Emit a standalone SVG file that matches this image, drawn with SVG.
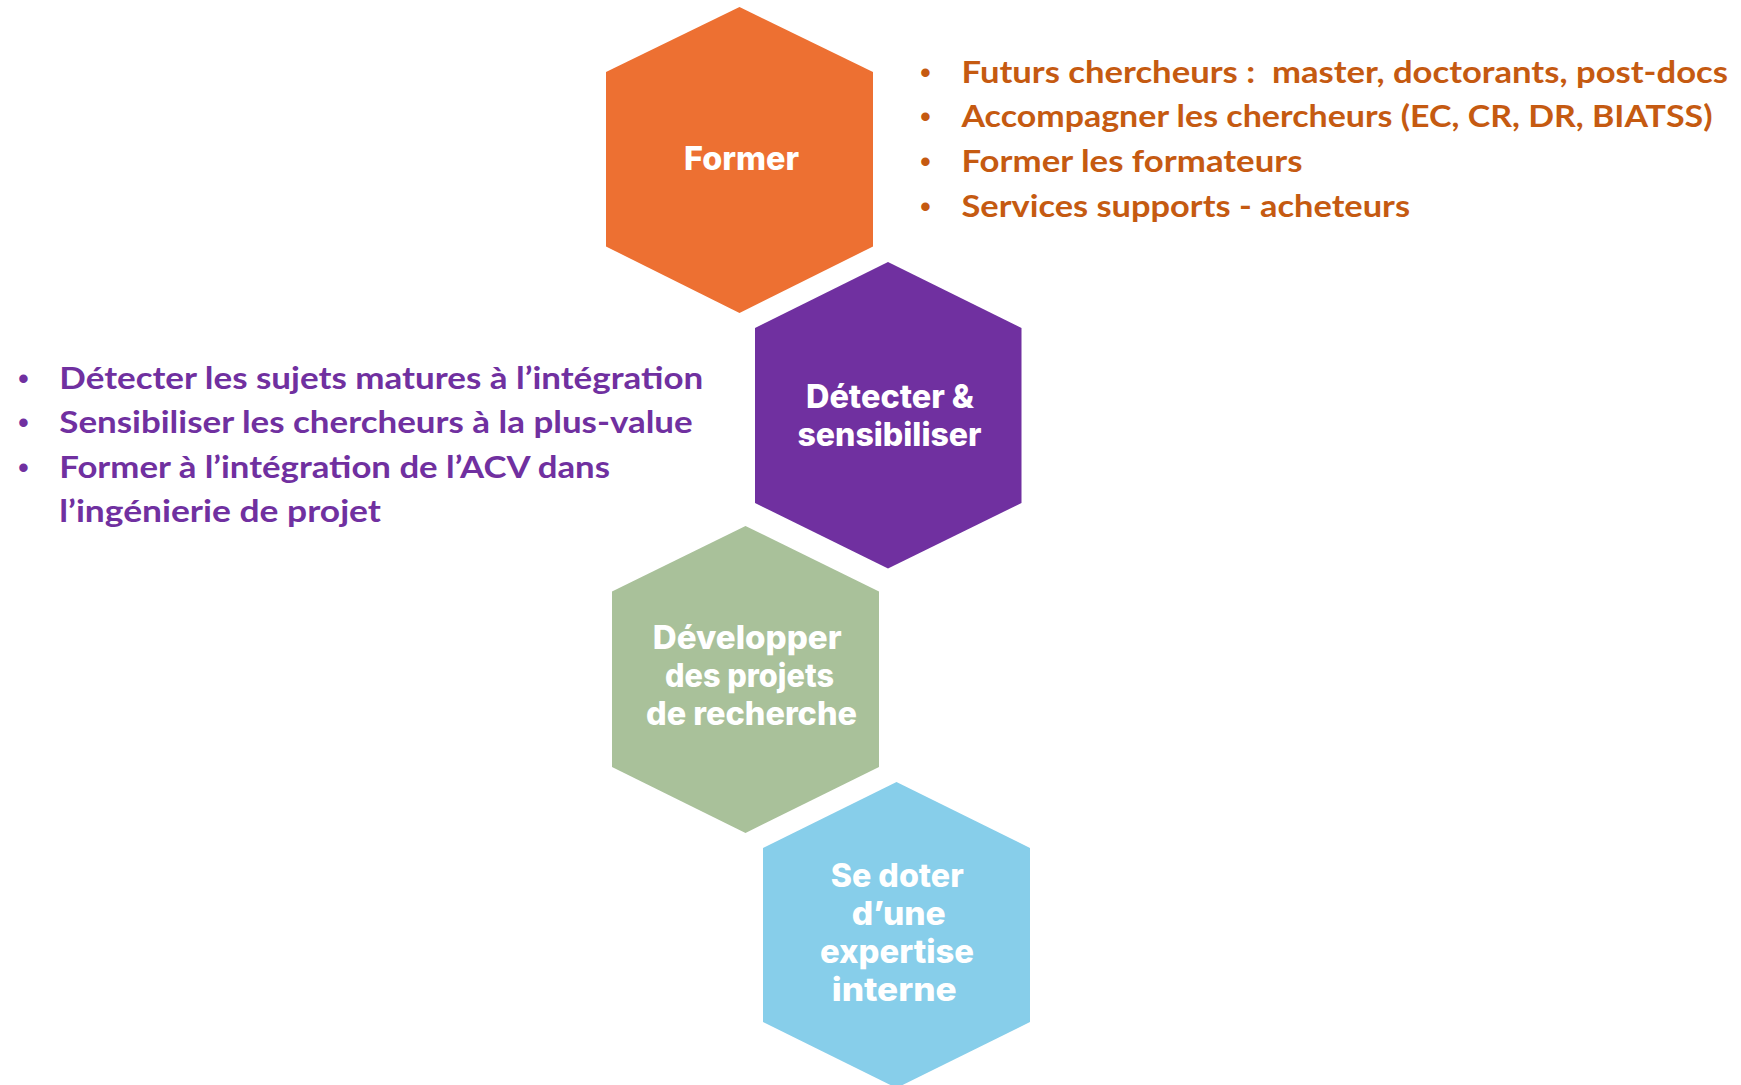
<svg xmlns="http://www.w3.org/2000/svg" width="1741" height="1085" viewBox="0 0 1741 1085">
  <style>
    .hex-label { font-family: Inter, "Noto Sans", "DejaVu Sans", sans-serif; font-weight: 800; font-size: 32px; fill: #ffffff; }
    .bul { font-family: Lato, "Noto Sans", sans-serif; font-weight: 700; font-size: 31px; white-space: pre; }
    .dot { font-family: "Liberation Sans", Arial, sans-serif; font-size: 31px; }
    .orange-t { fill: #C55A11; }
    .purple-t { fill: #7030A0; }
  </style>
  <rect width="1741" height="1085" fill="#ffffff"/>

  <g id="node-former">
    <polygon points="739.5,7 873,72 873,246.5 739.5,313 606,246.5 606,72" fill="#ED7032"/>
    <text class="hex-label" x="684" y="170" textLength="115" lengthAdjust="spacingAndGlyphs">Former</text>
  </g>

  <g id="node-detecter">
    <polygon points="888,262 1021.5,328 1021.5,503 888,568.5 755,503 755,328" fill="#7030A0"/>
    <text class="hex-label" x="806" y="407.5" textLength="168" lengthAdjust="spacingAndGlyphs">Détecter &amp;</text>
    <text class="hex-label" x="797.5" y="446" textLength="184" lengthAdjust="spacingAndGlyphs">sensibiliser</text>
  </g>

  <g id="node-developper">
    <polygon points="745.5,526 879,591.5 879,767 745.5,833 612,767 612,591.5" fill="#A9C19A"/>
    <text class="hex-label" x="652.7" y="649" textLength="189" lengthAdjust="spacingAndGlyphs">Développer</text>
    <text class="hex-label" x="665" y="687" textLength="169" lengthAdjust="spacingAndGlyphs">des projets</text>
    <text class="hex-label" x="646" y="725" textLength="211" lengthAdjust="spacingAndGlyphs">de recherche</text>
  </g>

  <g id="node-expertise">
    <polygon points="896.5,782 1030,848 1030,1022 896.5,1088 763,1022 763,848" fill="#87CEEA"/>
    <text class="hex-label" x="830.7" y="886.7" textLength="133" lengthAdjust="spacingAndGlyphs">Se doter</text>
    <text class="hex-label" x="851.7" y="924.5" textLength="94" lengthAdjust="spacingAndGlyphs">d’une</text>
    <text class="hex-label" x="820" y="962.5" textLength="154" lengthAdjust="spacingAndGlyphs">expertise</text>
    <text class="hex-label" x="831.7" y="1001" textLength="125" lengthAdjust="spacingAndGlyphs">interne</text>
  </g>

  <g id="list-former">
    <text class="dot orange-t" x="920" y="82.5">•</text>
    <text class="dot orange-t" x="920" y="127">•</text>
    <text class="dot orange-t" x="920" y="172">•</text>
    <text class="dot orange-t" x="920" y="216.5">•</text>
    <text class="bul orange-t" x="961.5" y="82.5" textLength="766.5" lengthAdjust="spacingAndGlyphs">Futurs chercheurs :  master, doctorants, post-docs</text>
    <text class="bul orange-t" x="961.5" y="127" textLength="751" lengthAdjust="spacingAndGlyphs">Accompagner les chercheurs (EC, CR, DR, BIATSS)</text>
    <text class="bul orange-t" x="961.5" y="172" textLength="341" lengthAdjust="spacingAndGlyphs">Former les formateurs</text>
    <text class="bul orange-t" x="961.5" y="216.5" textLength="448.5" lengthAdjust="spacingAndGlyphs">Services supports - acheteurs</text>
  </g>

  <g id="list-detecter">
    <text class="dot purple-t" x="18" y="388.5">•</text>
    <text class="dot purple-t" x="18" y="433">•</text>
    <text class="dot purple-t" x="18" y="477.5">•</text>
    <text class="bul purple-t" x="59.3" y="388.5" textLength="644" lengthAdjust="spacingAndGlyphs">Détecter les sujets matures à l’intégration</text>
    <text class="bul purple-t" x="59.3" y="433" textLength="633.4" lengthAdjust="spacingAndGlyphs">Sensibiliser les chercheurs à la plus-value</text>
    <text class="bul purple-t" x="59.3" y="477.5" textLength="550.7" lengthAdjust="spacingAndGlyphs">Former à l’intégration de l’ACV dans</text>
    <text class="bul purple-t" x="59.3" y="522" textLength="321.7" lengthAdjust="spacingAndGlyphs">l’ingénierie de projet</text>
  </g>

  <g id="connectors"></g>
</svg>
